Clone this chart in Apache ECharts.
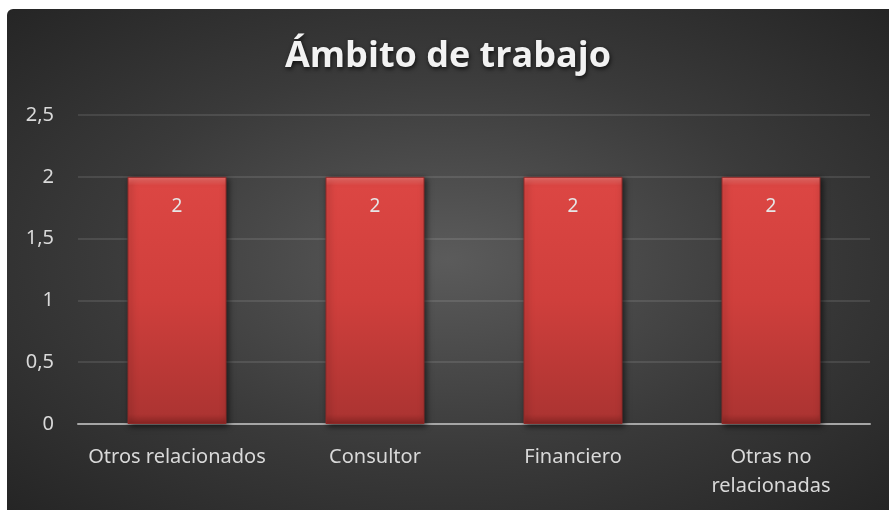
<!DOCTYPE html>
<html lang="es">
  <head>
    <meta charset="UTF-8" />
    <title>Ámbito de trabajo</title>
    <style>
      * {
        margin: 0;
        padding: 0;
      }
      body {
        background: #ffffff;
        width: 889px;
        height: 510px;
        overflow: hidden;
      }
      #main {
        position: absolute;
        left: 7px;
        top: 9px;
        width: 882px;
        height: 501px;
        border-radius: 6px 0 0 0;
        background: radial-gradient(ellipse at 50% 50%, #5b5b5b 0%, #3a3a3a 55%, #252525 100%);
      }
    </style>
  </head>
  <body>
    <div id="main"></div>
    <script src="https://cdn.jsdelivr.net/npm/echarts@6/dist/echarts.min.js"></script>
    <script>
      // datos
      const categorias = ["Otros relacionados", "Consultor", "Financiero", "Otras no\nrelacionadas"];
      const valores = [2, 2, 2, 2];
      const titulo = "Ámbito de trabajo";

      let myEcharts = echarts.init(document.getElementById("main"));
      let option = {
        backgroundColor: "transparent",
        title: {
          text: titulo,
          left: "center",
          top: 25,
          textStyle: {
            color: "#f2f2f2",
            fontFamily: "Open Sans",
            fontWeight: "bold",
            fontSize: 36,
            textShadowColor: "rgba(0,0,0,0.7)",
            textShadowBlur: 4,
            textShadowOffsetX: 1,
            textShadowOffsetY: 2,
          },
        },
        grid: {
          left: 71,
          right: 19,
          top: 106,
          bottom: 86,
        },
        xAxis: {
          type: "category",
          data: categorias,
          axisTick: { show: false },
          axisLine: { lineStyle: { color: "#a6a6a6", width: 2 } },
          axisLabel: {
            interval: 0,
            color: "#d9d9d9",
            fontFamily: "Noto Sans",
            fontSize: 20,
            margin: 19,
            lineHeight: 29,
          },
        },
        yAxis: {
          type: "value",
          min: 0,
          max: 2.5,
          interval: 0.5,
          axisLabel: {
            color: "#d9d9d9",
            fontFamily: "Noto Sans",
            fontSize: 20,
            margin: 24,
            formatter: function (v) {
              return String(v).replace(".", ",");
            },
          },
          splitLine: { lineStyle: { color: "rgba(255,255,255,0.1)", width: 2 } },
        },
        series: [
          {
            type: "bar",
            data: valores,
            barWidth: "50%",
            itemStyle: {
              color: {
                type: "linear",
                x: 0, y: 0, x2: 0, y2: 1,
                colorStops: [
                  { offset: 0, color: "#f2726e" },
                  { offset: 0.035, color: "#dc4643" },
                  { offset: 0.5, color: "#cf3f3c" },
                  { offset: 0.96, color: "#ad3432" },
                  { offset: 1, color: "#8c2624" },
                ],
              },
              borderColor: "#8e2a28",
              borderWidth: 1,
              shadowColor: "rgba(0,0,0,0.6)",
              shadowBlur: 6,
              shadowOffsetX: 2,
              shadowOffsetY: 2,
            },
            label: {
              show: true,
              position: "insideTop",
              distance: 20,
              color: "#e6e6e6",
              fontFamily: "Noto Sans",
              fontSize: 19,
            },
          },
        ],
      };
      myEcharts.setOption(option);
    </script>
  </body>
</html>
